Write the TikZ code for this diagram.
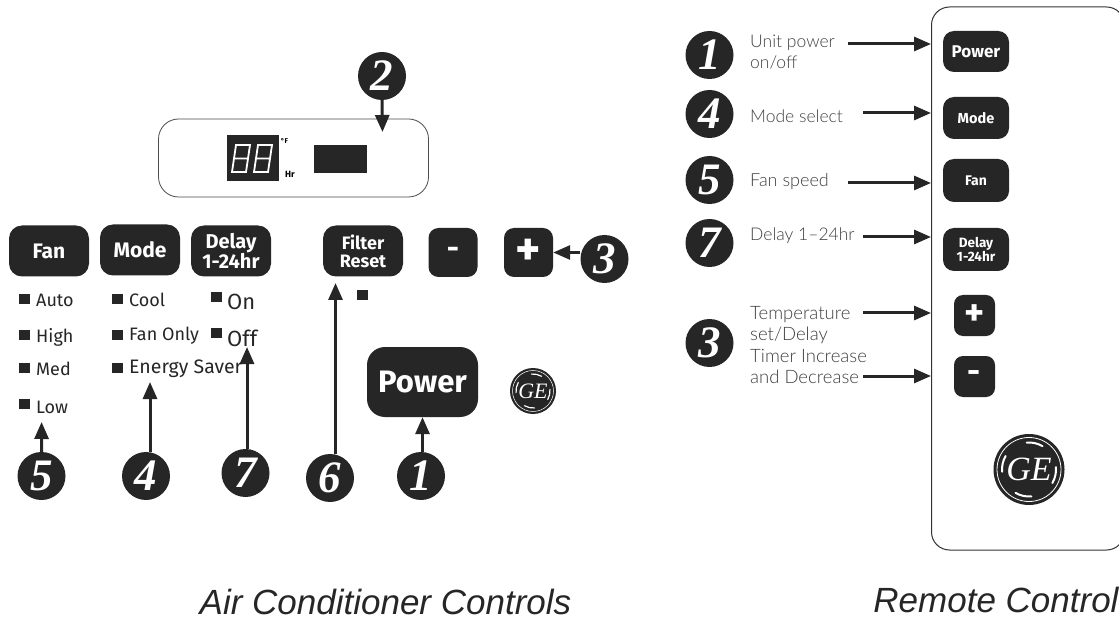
\documentclass[tikz,border=0pt]{standalone}
\usepackage{fontspec}
\setmainfont{Fira Sans}
\newfontfamily\thinfont{Lato Light}
\newfontfamily\titlefont{Liberation Sans}
\newfontfamily\digitfont{Liberation Serif}
\usetikzlibrary{positioning,arrows.meta}
\definecolor{panelblack}{HTML}{262626}
\tikzset{
  btn/.style={rectangle, rounded corners=#1, fill=panelblack, text=white, font=\bfseries, align=center, inner sep=0pt},
  btn/.default=13pt,
  badge/.style={circle, fill=panelblack, text=white, minimum size=48pt, inner sep=0pt, font=\fontsize{45}{45}\digitfont\bfseries\itshape},
  led/.style={rectangle, fill=panelblack, minimum width=11pt, minimum height=10pt, inner sep=0pt},
  ledlabel/.style={anchor=west, inner sep=0pt, text=black!85, font=\fontsize{18}{18}\selectfont},
  desc/.style={anchor=west, inner sep=0pt, align=left, text=black!75, font=\fontsize{17.5}{21.5}\thinfont},
  pointer/.style={-{Triangle[length=17pt,width=14pt]}, line width=3pt, panelblack},
  swirl/.style={white, line width=#1, line cap=round},
  caption/.style={inner sep=0pt, text=black!85, font=\fontsize{35}{35}\titlefont\itshape}
}
\begin{document}
\begin{tikzpicture}[x=1pt, y=-1pt]
    \clip (0,0) rectangle (1119,620);
    \path[fill=white] (0,0) rectangle (1119,620);

    \node[rectangle, draw=black!70, rounded corners=20pt, line width=0.8pt, minimum width=270pt, minimum height=78pt] (display) at (293.5,158) {};
    \node[rectangle, fill=panelblack, minimum width=52pt, minimum height=46pt, inner sep=0pt] (readout) at (253,158) {};
    \node[rectangle, fill=panelblack, minimum width=53pt, minimum height=28pt, inner sep=0pt] (window) at (340.5,159) {};
    \draw[white, line width=1.8pt] (232,172) -- (236,145) -- (250,145) -- (246,172) -- cycle (234,158.5) -- (248,158.5);
    \draw[white, line width=1.8pt] (254,172) -- (258,145) -- (272,145) -- (268,172) -- cycle (256,158.5) -- (270,158.5);
    \node[font=\fontsize{7}{7}\bfseries\selectfont, inner sep=0pt] (degF) at (284.5,141) {\textdegree F};
    \node[font=\fontsize{9}{9}\bfseries\selectfont, inner sep=0pt] (hr) at (290,174) {Hr};

    \node[btn, minimum width=80pt, minimum height=51pt, font=\fontsize{21}{21}\bfseries\selectfont] (fanBtn) at (49,251) {Fan};
    \node[btn, minimum width=80pt, minimum height=51pt, font=\fontsize{21}{21}\bfseries\selectfont] (modeBtn) at (140,250) {Mode};
    \node[btn, minimum width=80pt, minimum height=51pt, font=\fontsize{20}{18}\bfseries\selectfont] (delayBtn) at (231,251) {Delay\\1-24hr};
    \node[btn, minimum width=80pt, minimum height=51pt, font=\fontsize{18}{18}\bfseries\selectfont] (filterBtn) at (363,251) {Filter\\Reset};
    \node[btn=10pt, minimum width=49pt, minimum height=49pt, font=\fontsize{30}{30}\bfseries\selectfont] (minusBtn) at (453,252.5) {-};
    \node[btn=10pt, minimum width=49pt, minimum height=49pt, font=\fontsize{48}{48}\bfseries\selectfont] (plusBtn) at (528.5,252.5) {+};
    \node[btn=18pt, minimum width=111pt, minimum height=70pt, font=\fontsize{31}{31}\bfseries\selectfont] (powerBtn) at (422.5,382) {Power};
    \node[led] (filterLed) at (362.5,295) {};

    \node[led] (autoLed) at (24,299) {};
    \node[ledlabel] (autoLabel) at (36,300) {Auto};
    \node[led] (highLed) at (24,335) {};
    \node[ledlabel] (highLabel) at (36,337) {High};
    \node[led] (medLed) at (24,368) {};
    \node[ledlabel] (medLabel) at (36,369) {Med};
    \node[led] (lowLed) at (24,404) {};
    \node[ledlabel] (lowLabel) at (36,407) {Low};

    \node[led] (coolLed) at (117.5,299) {};
    \node[ledlabel] (coolLabel) at (129,300) {Cool};
    \node[led] (fanOnlyLed) at (117.5,335) {};
    \node[ledlabel] (fanOnlyLabel) at (129,336) {Fan Only};
    \node[led] (saverLed) at (117.5,368) {};
    \node[ledlabel, font=\fontsize{19.5}{19.5}\selectfont] (saverLabel) at (129,369) {Energy Saver};

    \node[led] (onLed) at (216.5,297) {};
    \node[ledlabel, font=\fontsize{22}{22}\selectfont] (onLabel) at (227,302) {On};
    \node[led] (offLed) at (216.5,333) {};
    \node[ledlabel, font=\fontsize{22}{22}\selectfont] (offLabel) at (227,338) {Off};

    \node[badge] (badgeTwoA) at (382,76) {2};
    \node[badge] (badgeThreeA) at (604.5,259) {3};
    \node[badge] (badgeFiveA) at (41.5,476) {5};
    \node[badge] (badgeFourA) at (146,476) {4};
    \node[badge] (badgeSevenA) at (245.5,473) {7};
    \node[badge] (badgeSixA) at (330,478) {6};
    \node[badge] (badgeOneA) at (421,476) {1};

    \coordinate (displayTip) at (382.5,132);
    \coordinate (lowTip) at (41.6,422);
    \coordinate (saverTip) at (150,382);
    \coordinate (offTip) at (247,347);
    \coordinate (filterTip) at (335.5,283);
    \draw[pointer] (badgeTwoA.south) -- (displayTip);
    \draw[pointer] (badgeThreeA.west |- plusBtn.east) -- (plusBtn.east);
    \draw[pointer] (badgeFiveA.north) -- (lowTip);
    \draw[pointer] (saverTip |- badgeFourA.north) -- (saverTip);
    \draw[pointer] (offTip |- badgeSevenA.north) -- (offTip);
    \draw[pointer] (filterTip |- badgeSixA.north) -- (filterTip);
    \draw[pointer] (powerBtn.south |- badgeOneA.north) -- (powerBtn.south);

    \node[circle, fill=panelblack, minimum size=46pt, inner sep=0pt] (logoA) at (533,391) {};
    \draw[white, line width=0.5pt] (logoA) circle (20.5pt);
    \draw[swirl=1.2pt] ([shift={(60:17pt)}]logoA.center) arc[start angle=60, end angle=95, radius=17pt];
    \draw[swirl=1.2pt] ([shift={(150:17pt)}]logoA.center) arc[start angle=150, end angle=185, radius=17pt];
    \draw[swirl=1.2pt] ([shift={(240:17pt)}]logoA.center) arc[start angle=240, end angle=275, radius=17pt];
    \draw[swirl=1.2pt] ([shift={(330:17pt)}]logoA.center) arc[start angle=330, end angle=365, radius=17pt];
    \node[text=white, inner sep=0pt, font=\fontsize{22}{22}\digitfont\itshape] (logoAText) at (533,391) {GE};

    \node[caption] (airCaption) at (385.5,602) {Air Conditioner Controls};

    \node[rectangle, draw=black!80, rounded corners=18pt, line width=1pt, minimum width=193pt, minimum height=543pt] (remote) at (1028,278.5) {};
    \node[btn=11pt, minimum width=66pt, minimum height=41pt, font=\fontsize{17}{17}\bfseries\selectfont] (remotePower) at (976,51.5) {Power};
    \node[btn=11pt, minimum width=66pt, minimum height=42pt, font=\fontsize{14.5}{14.5}\bfseries\selectfont] (remoteMode) at (976,118) {Mode};
    \node[btn=11pt, minimum width=66pt, minimum height=43pt, font=\fontsize{14}{14}\bfseries\selectfont] (remoteFan) at (976,180.5) {Fan};
    \node[btn=11pt, minimum width=66pt, minimum height=43pt, font=\fontsize{13.5}{11}\bfseries\selectfont] (remoteDelay) at (976,249.5) {Delay\\1-24hr};
    \node[btn=9pt, minimum width=41pt, minimum height=41pt, font=\fontsize{38}{38}\bfseries\selectfont] (remotePlus) at (974.5,315.5) {+};
    \node[btn=9pt, minimum width=41pt, minimum height=41pt, font=\fontsize{32}{32}\bfseries\selectfont] (remoteMinus) at (974.5,376.5) {-};

    \node[circle, fill=panelblack, minimum size=71pt, inner sep=0pt] (logoB) at (1029,469.5) {};
    \draw[white, line width=0.8pt] (logoB) circle (32pt);
    \draw[swirl=2pt] ([shift={(60:27pt)}]logoB.center) arc[start angle=60, end angle=95, radius=27pt];
    \draw[swirl=2pt] ([shift={(150:27pt)}]logoB.center) arc[start angle=150, end angle=185, radius=27pt];
    \draw[swirl=2pt] ([shift={(240:27pt)}]logoB.center) arc[start angle=240, end angle=275, radius=27pt];
    \draw[swirl=2pt] ([shift={(330:27pt)}]logoB.center) arc[start angle=330, end angle=365, radius=27pt];
    \node[text=white, inner sep=0pt, font=\fontsize{34}{34}\digitfont\itshape] (logoBText) at (1029,469.5) {GE};

    \node[badge] (badgeOneB) at (709.5,55) {1};
    \node[badge] (badgeFourB) at (709.5,114) {4};
    \node[badge] (badgeFiveB) at (709.5,180) {5};
    \node[badge] (badgeSevenB) at (709.5,243) {7};
    \node[badge] (badgeThreeB) at (709.5,343) {3};

    \node[desc] (unitDesc) at (750,52) {Unit power\\on/off};
    \node[desc] (modeDesc) at (750,116) {Mode select};
    \node[desc, font=\fontsize{18}{21.5}\thinfont] (fanDesc) at (750,182) {Fan speed};
    \node[desc] (delayDesc) at (750,236) {Delay 1–24hr};
    \node[desc, font=\fontsize{18.5}{21.5}\thinfont] (tempDesc) at (750,345) {Temperature\\set/Delay\\Timer Increase\\and Decrease};

    \coordinate (unitStart) at (848,44);
    \coordinate (modeStart) at (863,113);
    \coordinate (fanStart) at (848,183);
    \coordinate (delayStart) at (863,237);
    \coordinate (plusStart) at (863,313);
    \coordinate (minusStart) at (863,376);
    \draw[pointer] (unitStart) -- (unitStart -| remote.west);
    \draw[pointer] (modeStart) -- (modeStart -| remote.west);
    \draw[pointer] (fanStart) -- (fanStart -| remote.west);
    \draw[pointer] (delayStart) -- (delayStart -| remote.west);
    \draw[pointer] (plusStart) -- (plusStart -| remote.west);
    \draw[pointer] (minusStart) -- (minusStart -| remote.west);

    \node[caption] (remoteCaption) at (996,600) {Remote Control};
\end{tikzpicture}
\end{document}
